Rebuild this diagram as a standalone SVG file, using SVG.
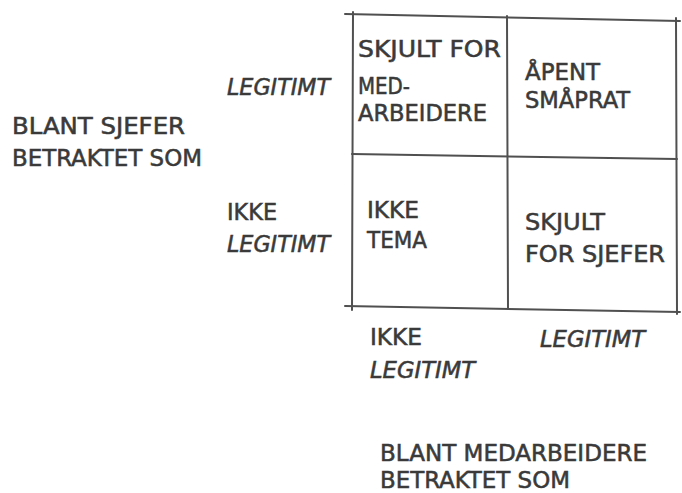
<svg xmlns="http://www.w3.org/2000/svg" width="682" height="493" viewBox="0 0 682 493">
<style>
.t{font-family:"DejaVu Sans Condensed","DejaVu Sans",sans-serif;font-size:23px;fill:#3a3a3a;stroke:#3a3a3a;stroke-width:0.5;}
.i{font-style:italic;}
.g{stroke:#505050;stroke-width:2;fill:none;stroke-linecap:round;}
</style>
<rect width="682" height="493" fill="#ffffff"/>
<g id="grid">
<line class="g" x1="345" y1="14" x2="680" y2="21"/>
<line class="g" x1="345" y1="306" x2="680" y2="312"/>
<line class="g" x1="353" y1="12" x2="352" y2="310"/>
<line class="g" x1="676" y1="18" x2="677" y2="314"/>
<line class="g" x1="507" y1="16" x2="508" y2="309"/>
<line class="g" x1="352" y1="154" x2="677" y2="159"/>
</g>
<g id="cell-top-left">
<text class="t" x="358" y="57" textLength="143" lengthAdjust="spacingAndGlyphs">SKJULT FOR</text>
<text class="t" x="358" y="94" textLength="52" lengthAdjust="spacingAndGlyphs">MED-</text>
<text class="t" x="358" y="121" textLength="129" lengthAdjust="spacingAndGlyphs">ARBEIDERE</text>
</g>
<g id="cell-top-right">
<text class="t" x="525" y="80" textLength="75" lengthAdjust="spacingAndGlyphs">ÅPENT</text>
<text class="t" x="525" y="108" textLength="105" lengthAdjust="spacingAndGlyphs">SMÅPRAT</text>
</g>
<g id="cell-bottom-left">
<text class="t" x="367" y="218" textLength="52" lengthAdjust="spacingAndGlyphs">IKKE</text>
<text class="t" x="367" y="248" textLength="60" lengthAdjust="spacingAndGlyphs">TEMA</text>
</g>
<g id="cell-bottom-right">
<text class="t" x="525" y="230" textLength="80" lengthAdjust="spacingAndGlyphs">SKJULT</text>
<text class="t" x="525" y="262" textLength="140" lengthAdjust="spacingAndGlyphs">FOR SJEFER</text>
</g>
<g id="row-labels">
<text class="t i" x="227" y="95" textLength="103" lengthAdjust="spacingAndGlyphs">LEGITIMT</text>
<text class="t" x="227" y="220" textLength="50" lengthAdjust="spacingAndGlyphs">IKKE</text>
<text class="t i" x="227" y="252" textLength="103" lengthAdjust="spacingAndGlyphs">LEGITIMT</text>
</g>
<g id="row-title">
<text class="t" x="12" y="134" textLength="173" lengthAdjust="spacingAndGlyphs">BLANT SJEFER</text>
<text class="t" x="12" y="166" textLength="190" lengthAdjust="spacingAndGlyphs">BETRAKTET SOM</text>
</g>
<g id="col-labels">
<text class="t" x="370" y="345" textLength="52" lengthAdjust="spacingAndGlyphs">IKKE</text>
<text class="t i" x="370" y="378" textLength="105" lengthAdjust="spacingAndGlyphs">LEGITIMT</text>
<text class="t i" x="540" y="347" textLength="105" lengthAdjust="spacingAndGlyphs">LEGITIMT</text>
</g>
<g id="col-title">
<text class="t" x="380" y="461" textLength="267" lengthAdjust="spacingAndGlyphs">BLANT MEDARBEIDERE</text>
<text class="t" x="380" y="488" textLength="190" lengthAdjust="spacingAndGlyphs">BETRAKTET SOM</text>
</g>
</svg>
